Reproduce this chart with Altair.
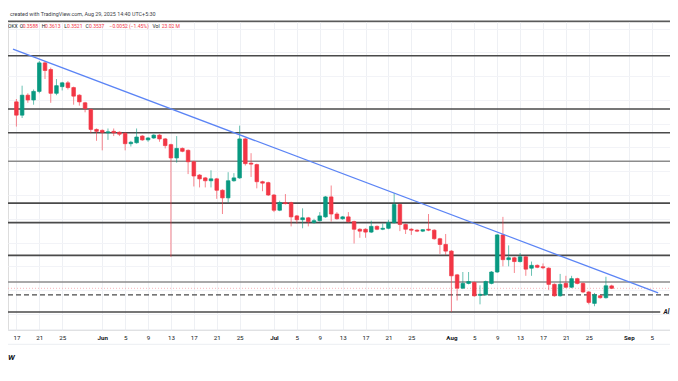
import altair as alt
import pandas as pd

# ---------------- data ----------------
first_day = "2025-05-17"
opens = [0.746,0.718,0.760,0.750,0.768,0.828,0.814,0.764,0.778,0.786,0.776,0.760,0.744,0.730,0.688,
         0.686,0.681,0.684,0.682,0.680,0.658,0.660,0.674,0.666,0.670,
         0.676,0.668,0.656,0.628,0.648,0.644,0.620,0.592,0.586,0.580,
         0.584,0.560,0.544,0.580,0.586,0.668,0.617,0.614,0.578,0.576,
         0.550,0.518,0.534,0.534,0.506,0.498,0.502,0.492,0.496,0.504,
         0.546,0.510,0.500,0.504,0.494,0.478,0.478,0.472,0.484,0.478,
         0.480,0.492,0.530,0.488,0.478,0.476,0.474,0.478,0.476,0.458,
         0.446,0.432,0.382,0.354,0.364,0.366,0.339,0.340,0.364,0.388,
         0.466,0.414,0.418,0.410,0.420,0.396,0.402,0.399,0.396,0.362,
         0.338,0.364,0.356,0.374,0.364,0.346,0.322,0.338,0.334,0.3588]
highs = [0.752,0.780,0.764,0.772,0.832,0.832,0.818,0.794,0.788,0.790,0.778,0.762,0.746,0.732,0.690,
         0.688,0.690,0.690,0.684,0.682,0.664,0.690,0.676,0.672,0.678,
         0.678,0.670,0.658,0.674,0.650,0.646,0.622,0.594,0.588,0.602,
         0.586,0.562,0.598,0.596,0.696,0.670,0.638,0.616,0.580,0.578,
         0.552,0.538,0.552,0.536,0.508,0.522,0.504,0.500,0.514,0.548,
         0.570,0.514,0.506,0.514,0.496,0.480,0.480,0.496,0.486,0.490,
         0.498,0.554,0.532,0.490,0.480,0.478,0.478,0.510,0.478,0.460,
         0.468,0.434,0.384,0.388,0.388,0.368,0.360,0.370,0.390,0.468,
         0.504,0.444,0.420,0.428,0.422,0.410,0.404,0.406,0.398,0.364,
         0.384,0.380,0.380,0.376,0.366,0.348,0.344,0.340,0.378,0.3613]
lows = [0.694,0.712,0.744,0.740,0.764,0.794,0.744,0.760,0.770,0.772,0.740,0.738,0.724,0.680,0.664,
        0.644,0.666,0.674,0.674,0.644,0.652,0.658,0.664,0.662,0.668,
        0.662,0.648,0.420,0.618,0.640,0.594,0.568,0.566,0.566,0.566,
        0.542,0.510,0.534,0.578,0.584,0.612,0.588,0.564,0.558,0.548,
        0.514,0.516,0.530,0.484,0.490,0.480,0.484,0.490,0.494,0.502,
        0.494,0.498,0.498,0.492,0.448,0.460,0.460,0.470,0.476,0.476,
        0.478,0.490,0.474,0.468,0.466,0.472,0.472,0.474,0.456,0.426,
        0.424,0.304,0.328,0.352,0.362,0.336,0.320,0.338,0.362,0.386,
        0.400,0.400,0.386,0.408,0.380,0.380,0.396,0.394,0.350,0.336,
        0.336,0.354,0.354,0.362,0.344,0.320,0.316,0.332,0.332,0.3521]
closes = [0.718,0.760,0.750,0.768,0.828,0.812,0.764,0.780,0.786,0.776,0.758,0.746,0.732,0.688,0.684,
          0.682,0.683,0.681,0.678,0.658,0.661,0.672,0.666,0.670,0.676,
          0.668,0.654,0.628,0.648,0.642,0.620,0.590,0.584,0.580,0.584,
          0.560,0.544,0.580,0.586,0.668,0.616,0.615,0.578,0.575,0.550,
          0.518,0.534,0.532,0.504,0.498,0.502,0.494,0.496,0.506,0.546,
          0.510,0.500,0.504,0.494,0.478,0.474,0.472,0.484,0.478,0.480,
          0.492,0.530,0.488,0.478,0.476,0.474,0.477,0.476,0.458,0.446,
          0.432,0.380,0.354,0.364,0.368,0.338,0.341,0.368,0.388,0.466,
          0.414,0.418,0.410,0.420,0.394,0.402,0.398,0.397,0.362,0.338,
          0.362,0.356,0.374,0.364,0.346,0.324,0.340,0.334,0.359,0.3537]

tick_dates = ["2025-05-17", "2025-05-21", "2025-05-25",
              "2025-06-01", "2025-06-05", "2025-06-09", "2025-06-13", "2025-06-17", "2025-06-21", "2025-06-25",
              "2025-07-01", "2025-07-05", "2025-07-09", "2025-07-13", "2025-07-17", "2025-07-21", "2025-07-25",
              "2025-08-01", "2025-08-05", "2025-08-09", "2025-08-13", "2025-08-17", "2025-08-21", "2025-08-25",
              "2025-09-01", "2025-09-05"]

levels_dark = [0.843, 0.731, 0.681, 0.533, 0.492, 0.423]
levels_light = [0.621, 0.367]
level_dashed = [0.340]
level_atl = [0.304]
trend_dates = ["2025-05-16T09:46:00Z", "2025-09-06T03:00:00Z"]
trend_prices = [0.857, 0.344]
last_price = 0.3537
hdr_open, hdr_high, hdr_low, hdr_close = 0.3588, 0.3613, 0.3521, 0.3537
hdr_change, hdr_pct, hdr_vol = -0.0052, -1.45, "23.02 M"

# ---------------- layout ----------------
W, H = 662, 308
SX, SY, TOP = 0.9764, 0.95, 14
def px(rx):
    return rx * SX
def py(ry):
    return ry * SY - TOP

UP, DOWN = "#089981", "#f23645"
FONT = "Roboto"

dates = pd.date_range(first_day, periods=len(opens), freq="D").strftime("%Y-%m-%d").tolist()
df = pd.DataFrame({"date": dates, "open": opens, "high": highs, "low": lows, "close": closes})
df["dir"] = ["up" if c >= o else "down" for o, c in zip(opens, closes)]

def dt(s, h=0, m=0):
    y, mo, d = (int(v) for v in s[:10].split("-"))
    return alt.DateTime(year=y, month=mo, date=d, hours=h, minutes=m, utc=True)

x_domain = [dt("2025-05-16", 9, 46), dt("2025-09-07", 7, 40)]
y_domain = [0.266, 0.914]

x_axis = alt.Axis(
    values=[dt(s) for s in tick_dates],
    labelExpr="utcdate(datum.value) == 1 ? utcFormat(datum.value, '%b') : '' + utcdate(datum.value)",
    labelFontWeight={"condition": {"test": "utcdate(datum.value) == 1", "value": "bold"}, "value": "normal"},
    grid=True, gridColor="#eef0f4", gridWidth=1,
    ticks=False, domain=False, labelPadding=4, labelFontSize=6.2, labelColor="#131722",
    labelFont=FONT, labelBaseline="top", labelFlush=False, labelOverlap=False, title=None,
)
y_axis = alt.Axis(labels=False, ticks=False, domain=False, grid=True, gridColor="#f2f3f7",
                  tickCount=12, title=None)

X = alt.X("date:T", scale=alt.Scale(type="utc", domain=x_domain), axis=x_axis, title=None)
def Y(field):
    return alt.Y(field, scale=alt.Scale(domain=y_domain, nice=False, zero=False), axis=y_axis, title=None)

color_scale = alt.Scale(domain=["up", "down"], range=[UP, DOWN])

base = alt.Chart(df)
wicks = base.mark_rule(strokeWidth=1, opacity=0.6).encode(
    x=X, y=Y("low:Q"), y2="high:Q",
    color=alt.Color("dir:N", scale=color_scale, legend=None))
bodies = base.mark_bar(width=3.6, strokeWidth=0.7).encode(
    x=X, y=Y("open:Q"), y2="close:Q",
    fill=alt.Fill("dir:N", scale=color_scale, legend=None),
    stroke=alt.Stroke("dir:N", scale=color_scale, legend=None))

def hlines(values, color, width, dash=None, x2=W):
    kw = dict(color=color, strokeWidth=width)
    if dash:
        kw["strokeDash"] = dash
    return alt.Chart(pd.DataFrame({"price": values})).mark_rule(**kw).encode(
        y=Y("price:Q"), x=alt.value(0), x2=alt.value(x2))

lines_dark = hlines(levels_dark, "#4a4a4a", 1.6)
lines_light = hlines(levels_light, "#8c8c8c", 1.3)
line_dashed = hlines(level_dashed, "#4a4a4a", 1.4, dash=[5, 3])
line_atl = hlines(level_atl, "#4a4a4a", 1.6, x2=px(668))
price_line = hlines([last_price], "#f5a3aa", 0.8, dash=[1, 2])

trend = alt.Chart(pd.DataFrame({"date": trend_dates, "price": trend_prices})).mark_line(
    color="#5b84f5", strokeWidth=1.3).encode(x=X, y=Y("price:Q"))

def rule_px(yv, color, width):
    return alt.Chart(pd.DataFrame({"a": [0]})).mark_rule(color=color, strokeWidth=width).encode(
        x=alt.value(0), x2=alt.value(W), y=alt.value(yv))

top_border = rule_px(py(14), "#5a5a5a", 1.6)
axis_top = rule_px(H, "#e3e5ea", 1)
axis_bottom = rule_px(py(354), "#eceef2", 1)

def label(txt, rx, ry, color, size, weight="normal", style="normal", align="left", xpix=None):
    xv = px(rx) if xpix is None else xpix
    return alt.Chart(pd.DataFrame({"t": [txt]})).mark_text(
        align=align, baseline="middle", fontSize=size, fontWeight=weight, fontStyle=style,
        color=color, font=FONT).encode(text="t:N", x=alt.value(xv), y=alt.value(py(ry)))

DARK = "#131722"
HS = 5.0
texts = [
    label("created with TradingView.com, Aug 29, 2025 14:40 UTC+5:30", 2, 6.5, "#3a3d45", 5.4),
    label("OKX", 0, 18.5, DARK, HS),
    label("O", 12, 18.5, DARK, HS),
    label(f"{hdr_open:.4f}", 15, 18.5, DOWN, HS),
    label("H", 34.5, 18.5, DARK, HS),
    label(f"{hdr_high:.4f}", 38, 18.5, DOWN, HS),
    label("L", 57.5, 18.5, DARK, HS),
    label(f"{hdr_low:.4f}", 60.5, 18.5, DOWN, HS),
    label("C", 79.5, 18.5, DARK, HS),
    label(f"{hdr_close:.4f}", 83, 18.5, DOWN, HS),
    label(f"\u2212{abs(hdr_change):.4f} (\u2212{abs(hdr_pct):.2f}%)", 104, 18.5, DOWN, HS),
    label("Vol", 148, 18.5, DARK, HS),
    label(hdr_vol, 157.5, 18.5, DOWN, HS),
    label("W", 0, 368, "#131722", 8, weight="bold", style="italic"),
    label("Al", 0, 319.5, "#131722", 6.5, weight="bold", style="italic", align="right", xpix=W - 0.5),
]

chart = alt.layer(
    axis_top, axis_bottom, top_border,
    lines_light, lines_dark, line_dashed, line_atl, price_line,
    wicks, bodies, trend, *texts,
).properties(
    width=W, height=H,
    autosize=alt.AutoSizeParams(type="none"),
    padding={"left": 0, "top": TOP, "right": 0, "bottom": 33},
).configure_view(stroke=None).configure(font=FONT)

chart.save("out.html", embed_options={"renderer": "svg", "actions": False})
